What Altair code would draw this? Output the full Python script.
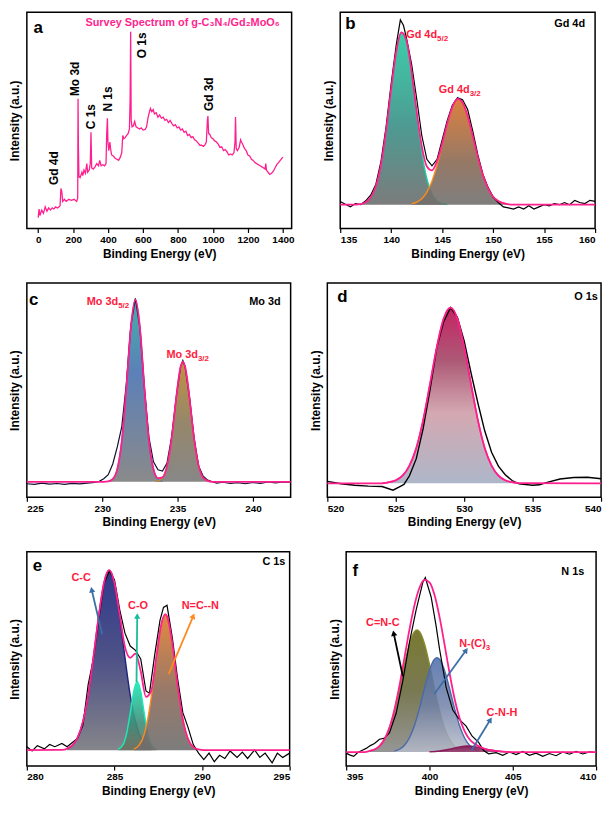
import altair as alt
import pandas as pd

FONT = "Liberation Sans"
PINK = "#ff1f8e"
RED = "#ff1a40"
STEEL = "#3b6fa8"

# ---------------- panel a: survey (binding energy, intensity) ----------------
a_survey = [(0,5),(5,9),(10,6),(20,8.5),(30,7),(40,10),(50,8),(60,9.5),(70,8.5),(80,9.5),(90,9),(100,10),
            (110,9.5),(120,10),(125,10.5),(130,18.5),(135,17),(140,12.5),(150,13.5),(160,12.5),(175,13.5),
            (190,13),(205,13.5),(220,12.5),(226,14),(228,60),(230,38),(233,24),(240,23.5),(250,26),(255,24.5),
            (262,27),(270,25.5),(278,30),(283,26),(292,27),(298,30),(302,44.5),(306,28),(315,27.5),(325,28.5),
            (335,30),(345,29),(352,31.5),(360,29),(370,29.5),(380,29),(388,30),(392,44),(396,51),(399,40),
            (404,36),(410,40),(414,37),(420,34),(430,33.5),(440,32.5),(450,32),(460,31.5),(470,33),(478,35),
            (484,43),(490,41.5),(498,42),(505,43),(515,44),(522,46),(526,60),(529,91),(532,50),(537,47),
            (545,47.5),(552,49.5),(560,47),(570,46.5),(580,46),(590,46.5),(600,45.5),(612,45.8),(620,47),
            (628,51),(635,53.5),(642,55.5),(650,54),(658,55),(665,53),(675,53.5),(685,51.5),(695,52.5),
            (705,51),(715,51.5),(725,50),(735,50.5),(745,49),(755,50),(765,48.5),(775,47.5),(785,48),
            (795,46.5),(805,47),(815,45.5),(825,46),(835,44.5),(845,45),(855,43),(865,43.5),(875,42),
            (885,42.5),(895,41),(905,40.5),(915,39.5),(925,38.5),(935,38.5),(945,38),(955,38.8),(962,40),
            (968,50),(971,52),(975,44),(982,43.5),(990,42),(1000,41.5),(1010,40.5),(1020,40),(1030,39),
            (1040,37.5),(1050,37.8),(1060,36),(1070,36.5),(1080,35.5),(1090,34),(1100,34.5),(1110,34),
            (1120,35),(1126,40),(1129,51.5),(1133,37),(1140,36),(1150,37.5),(1158,41),(1163,40),(1170,39),
            (1180,37),(1190,36),(1200,34),(1210,33.5),(1220,32),(1230,31.5),(1240,30.5),(1250,30),(1260,29.5),
            (1270,29),(1280,28.5),(1290,28),(1298,27.5),(1302,30),(1306,27),(1315,26),(1325,25),(1335,25.5),
            (1345,26.5),(1355,28),(1365,29.5),(1375,30.5),(1385,31.5),(1395,32.5),(1400,33)]

# ---------------- panel b: Gd 4d ----------------
b_base = 11
b_raw = [(135,12.5),(135.5,11.2),(136,10.0),(136.5,11.5),(137,11.0),(137.5,12.8),(138,15.5),(138.5,20.5),
         (139,31),(139.5,47),(140,67),(140.5,85),(140.9,96.5),(141.2,94),(141.5,88),(142,76),(142.5,60),
         (143,43),(143.5,32),(144,29),(144.5,32),(145,41),(145.5,50),(146,57),(146.5,60.5),(147,59.5),
         (147.5,55),(148,45),(148.5,34),(149,25),(149.5,19),(150,14.5),(150.5,12),(151,10),(151.5,9.5),
         (152,9),(152.5,10),(153,9),(153.5,10.5),(154,9),(154.5,10),(155,11),(155.5,10.5),(156,11.5),
         (156.5,11),(157,12),(157.5,11),(158,13),(158.5,12),(159,11.5),(159.5,13),(160,12.5)]
b_fit = [(135,11),(136,11),(137,11.3),(137.5,12.1),(138,14.4),(138.5,19.6),(139,29.6),(139.5,45.4),
         (140,64.7),(140.5,82.1),(141,90.7),(141.5,86.8),(142,72.6),(142.5,54.0),(143,38.0),(143.5,28.7),
         (144,26.9),(144.5,31.2),(145,39.2),(145.5,48.6),(146,56.2),(146.5,59.9),(147,58.3),(147.5,51.9),
         (148,42.7),(148.5,33.0),(149,24.6),(149.5,18.6),(150,14.7),(150.5,12.7),(151,11.7),(151.5,11.2),
         (152,11),(160,11)]
b_gd52 = [(137.0,0.3),(137.5,1.1),(138.0,3.4),(138.5,8.6),(139.0,18.6),(139.5,34.4),(140.0,53.7),
          (140.5,71.1),(141.0,79.7),(141.5,75.8),(142.0,61.2),(142.5,41.8),(143.0,24.2),(143.5,11.9),
          (144.0,5.0),(144.5,1.8),(145.0,0.5),(145.5,0.1)]
b_gd32 = [(142.0,0.4),(142.5,1.2),(143.0,2.8),(143.5,5.8),(144.0,10.9),(144.5,18.4),(145.0,27.7),
          (145.5,37.5),(146.0,45.2),(146.5,48.9),(147.0,47.3),(147.5,40.9),(148.0,31.7),(148.5,22.0),
          (149.0,13.6),(149.5,7.6),(150.0,3.7),(150.5,1.7),(151.0,0.7),(151.5,0.2)]

# ---------------- panel c: Mo 3d ----------------
c_base = 7.2
c_raw = [(225,6.3),(225.5,6.0),(226,6.6),(226.5,6.1),(227,6.4),(227.5,6.0),(228,6.5),(228.5,6.2),(229,6.6),
         (229.5,6.9),(229.8,7.4),(230.1,8.6),(230.4,10.5),(230.7,15.5),(231.0,23.5),(231.3,33),(231.6,53),
         (231.9,80),(232.2,92.8),(232.5,79),(232.8,51),(233.1,28),(233.4,16.5),(233.7,12.8),(234.0,12.2),
         (234.3,16),(234.6,28),(234.9,46),(235.2,61),(235.35,63.8),(235.5,61),(235.8,46),(236.1,27.5),
         (236.4,14.5),(236.7,9.8),(237.0,8.0),(237.3,7.2),(237.6,6.6),(238,7.0),(238.5,6.4),(239,6.8),
         (239.5,6.3),(240,6.9),(240.5,6.5),(241,7.1),(241.5,6.7),(242,7.2),(242.5,7.0)]
c_fit = [(225,7.2),(230.1,7.2),(230.4,7.4),(230.7,8.5),(231.0,13.1),(231.3,26.2),(231.6,51),(231.9,79.2),
         (232.2,92.2),(232.5,79.2),(232.8,51),(233.1,26.2),(233.4,13.1),(233.7,8.9),(234.0,9.3),(234.3,14.5),
         (234.6,27),(234.9,45.7),(235.2,60.9),(235.35,63.2),(235.5,60.9),(235.8,45.7),(236.1,27),(236.4,14.5),
         (236.7,9.1),(237.0,7.6),(237.3,7.2),(242.5,7.2)]
c_mo52 = [(230.4,0.2),(230.7,1.3),(231.0,5.9),(231.3,19),(231.6,43.8),(231.9,72),(232.2,85),(232.5,72),
          (232.8,43.8),(233.1,19),(233.4,5.9),(233.7,1.3),(234.0,0.2)]
c_mo32 = [(233.55,0.1),(233.85,0.9),(234.15,3.9),(234.45,12.5),(234.75,28.8),(235.05,47.4),(235.35,56),
          (235.65,47.4),(235.95,28.8),(236.25,12.5),(236.55,3.9),(236.85,0.9),(237.15,0.1)]

# ---------------- panel d: O 1s ----------------
d_base = 6.5
d_raw = [(520,7.4),(521,6.3),(522,5.6),(523,5.2),(524,5.0),(524.8,3.3),(525.3,5.0),(525.6,6.0),(526,10),
         (526.5,18),(527,32),(527.5,50),(528,70),(528.5,82),(529,88.5),(529.5,84),(530,73),(530.5,58),
         (531,44),(531.5,31),(532,21),(532.5,14.5),(533,10.5),(533.5,7.8),(534,6.2),(535,5.6),(535.5,5.8),
         (536,6.8),(537,8.5),(538,9.2),(539,9.3),(540,8.6)]
d_fit = [(520,6.5),(524,6.5),(524.5,7.0),(525,7.9),(525.5,10.1),(526,14.8),(526.5,23),(527,36),(527.5,52.8),
         (528,70.1),(528.5,83.4),(529,88.5),(529.5,83.4),(530,70.1),(530.5,52.8),(531,36),(531.5,23),
         (532,14.8),(532.5,10.1),(533,7.9),(533.5,7.0),(534,6.6),(540,6.5)]

# ---------------- panel e: C 1s ----------------
e_base = 7.4
e_raw = [(280,9),(280.3,7),(280.6,9.5),(281.0,8),(281.3,10),(281.6,9),(282.0,10.5),(282.3,9),(282.6,11),
         (282.9,13),(283.2,19),(283.5,38),(283.8,50),(284.1,68),(284.4,85),(284.7,91),(285.0,87),(285.3,73),
         (285.6,62),(285.9,56),(286.2,54),(286.5,50),(286.8,35),(287.0,34),(287.3,52),(287.6,68),(287.8,74),
         (288.0,75),(288.3,60),(288.6,41),(288.9,25),(289.2,18),(289.5,10),(289.8,6),(290.1,3),(290.4,6),
         (290.7,2),(291.0,5),(291.3,3.5),(291.6,7),(292.0,4),(292.3,6.5),(292.6,3.5),(293.0,7.5),(293.3,4),
         (293.6,6),(294.0,1.5),(294.3,6),(294.6,4),(295.0,6)]
e_fit = [(280,7.4),(282.0,7.5),(282.3,8.1),(282.6,9.7),(282.9,13.3),(283.2,20.7),(283.5,33.1),(283.8,50.7),
         (284.1,69.8),(284.4,85.4),(284.7,91.4),(285.0,85.4),(285.3,70.5),(285.6,55.6),(285.9,50.5),
         (286.2,52.4),(286.5,44.2),(286.8,32.3),(287.1,35.1),(287.4,51.4),(287.7,67.1),(287.9,70.8),
         (288.0,69.9),(288.3,57.4),(288.6,37.9),(288.9,21.8),(289.2,12.6),(289.5,8.8),(289.8,7.7),
         (290.1,7.4),(295,7.4)]
e_cc = [(282.3,0.7),(282.6,2.3),(282.9,5.9),(283.2,13.3),(283.5,25.7),(283.8,43.3),(284.1,62.4),(284.4,78),
        (284.7,84),(285.0,78),(285.3,62.4),(285.6,43.3),(285.9,25.7),(286.2,13.3),(286.5,5.9),(286.8,2.3),
        (287.1,0.7)]
e_co = [(285.2,0.3),(285.5,2.7),(285.7,8.0),(285.9,17.3),(286.1,27.4),(286.3,32),(286.5,27.4),(286.7,17.3),
        (286.9,8.0),(287.1,2.7),(287.4,0.3)]
e_ncn = [(286.1,0.5),(286.4,2.2),(286.7,7.4),(287.0,19.1),(287.3,37.2),(287.6,55.5),(287.9,63.4),(288.2,55.5),
         (288.5,37.2),(288.8,19.1),(289.1,7.4),(289.4,2.2),(289.7,0.5)]

# ---------------- panel f: N 1s ----------------
f_base = 6.5
f_raw = [(395.0,6.0),(395.2,5.2),(395.45,4.5),(395.7,6.3),(396.0,7.5),(396.2,8.2),(396.45,9.5),(396.7,10.5),
         (397.0,12.5),(397.3,13.0),(397.6,15.5),(398.0,24.6),(398.4,39.7),(398.8,57.8),(399.2,72.9),
         (399.6,85.7),(399.75,88.0),(400.1,78.9),(400.4,65.3),(400.6,54.8),(401.0,36.7),(401.4,26.1),
         (401.8,21.6),(402.2,18.6),(402.55,14.0),(402.95,11.0),(403.25,7.2),(403.55,5.7),(404.0,6.2),
         (404.4,5.0),(404.8,6.5),(405.2,5.3),(405.6,6.8),(406.0,5.0),(406.4,6.0),(406.8,4.5),(407.2,5.8),
         (407.6,4.8),(408.0,6.5),(408.4,5.5),(408.8,6.8),(409.2,5.6),(409.6,6.6),(410,6.3)]
f_fit = [(395,6.5),(396.1,6.5),(396.4,7.0),(396.7,7.7),(397.0,9.3),(397.3,12.5),(397.6,17.9),(397.9,26.4),
         (398.2,37.6),(398.5,50.6),(398.8,63.8),(399.1,75.1),(399.4,83.2),(399.7,86.9),(400.0,85.7),
         (400.3,79.9),(400.6,69.7),(400.9,56.9),(401.2,43.6),(401.5,31.6),(401.8,22.5),(402.1,16.4),
         (402.4,12.5),(402.7,10.4),(403.0,9.1),(403.4,7.8),(404.0,7.0),(404.6,6.6),(405.0,6.5),(410,6.5)]
f_cnc = [(396.4,0.5),(396.7,1.2),(397.0,2.8),(397.3,6.0),(397.6,11.4),(397.9,19.4),(398.2,29.8),(398.5,40.9),
         (398.8,50.6),(399.1,56.2),(399.25,57),(399.4,56.2),(399.7,50.6),(400.0,40.9),(400.3,29.8),
         (400.6,19.4),(400.9,11.4),(401.2,6.0),(401.5,2.8),(401.8,1.2),(402.1,0.5)]
f_nc3 = [(397.9,0.5),(398.2,1.3),(398.5,3.2),(398.8,6.7),(399.1,12.4),(399.4,20.5),(399.7,29.8),(400.0,38.2),
         (400.3,43.3),(400.45,44),(400.6,43.3),(400.9,38.2),(401.2,29.8),(401.5,20.5),(401.8,12.4),
         (402.1,6.7),(402.4,3.2),(402.7,1.3),(403.0,0.5)]
f_cnh = [(400.0,0.1),(400.6,0.47),(401.2,1.3),(401.8,2.4),(402.3,2.8),(402.8,2.4),(403.4,1.3),(404.0,0.47),
         (404.6,0.1)]

# ---------------- helpers ----------------
Y = alt.Y("y:Q", scale=alt.Scale(domain=[0, 100], nice=False, zero=False),
          axis=alt.Axis(title="Intensity (a.u.)", labels=False, ticks=False, titlePadding=5))


def xenc(domain, ticks):
    return alt.X("x:Q", scale=alt.Scale(domain=domain, nice=False, zero=False),
                 axis=alt.Axis(values=ticks, title="Binding Energy (eV)", format="d"))


def df(pts):
    return pd.DataFrame(pts, columns=["x", "y"])


def line(X, pts, color, width=1.2):
    return alt.Chart(df(pts)).mark_line(color=color, strokeWidth=width, interpolate="linear").encode(x=X, y=Y)


def smooth(X, pts, color, width=1.8):
    return alt.Chart(df(pts)).mark_line(color=color, strokeWidth=width, interpolate="monotone").encode(x=X, y=Y)


def grad(*stops):
    return alt.Gradient(gradient="linear",
                        stops=[alt.GradientStop(color=c, offset=o) for o, c in stops],
                        x1=1, x2=1, y1=0, y2=1)


def comp(X, pts, base, fill, edge, opacity=0.9):
    d = pd.DataFrame(pts, columns=["x", "h"])
    d["y"] = d["h"] + base
    d["b"] = base
    return alt.Chart(d).mark_area(color=fill, opacity=opacity, interpolate="monotone",
                                  line=alt.OverlayMarkDef(color=edge, strokeWidth=1.4)).encode(
        x=X, y=Y, y2="b:Q")


def text(X, x, y, s, size=11, color="black", align="center", angle=0, dy=0):
    return alt.Chart(pd.DataFrame({"x": [x], "y": [y], "t": [s]})).mark_text(
        font=FONT, fontWeight="bold", fontSize=size, color=color, align=align,
        baseline="middle", angle=angle, dy=dy).encode(x=X, y=Y, text="t:N")


def subl(X, x, y, main, sub, color=RED):
    return [text(X, x, y, main, 11, color, "right"), text(X, x, y, sub, 8, color, "left", dy=4)]


def arrow(X, x1, y1, x2, y2, color, ang):
    shaft = alt.Chart(pd.DataFrame({"x": [x1], "y": [y1], "x2": [x2], "y2": [y2]})).mark_rule(
        color=color, strokeWidth=1.8).encode(x=X, y=Y, x2="x2:Q", y2="y2:Q")
    head = alt.Chart(pd.DataFrame({"x": [x2], "y": [y2]})).mark_point(
        shape="triangle-up", filled=True, size=40, color=color, angle=ang, opacity=1).encode(x=X, y=Y)
    return [shaft, head]


# ---------------- panel a ----------------
Xa = xenc([-65, 1450], [0, 200, 400, 600, 800, 1000, 1200, 1400])
pa = alt.layer(
    line(Xa, a_survey, PINK, 1.3),
    text(Xa, 0, 92.6, "a", 17),
    text(Xa, 826, 95.1, "Survey Spectrum of g-C₃N₄/Gd₂MoO₆", 11, PINK),
    text(Xa, 91, 27.9, "Gd 4d", 12, angle=270),
    text(Xa, 210, 69.2, "Mo 3d", 12, angle=270),
    text(Xa, 302, 51.7, "C 1s", 12, angle=270),
    text(Xa, 397, 59.9, "N 1s", 12, angle=270),
    text(Xa, 592, 84.7, "O 1s", 12, angle=270),
    text(Xa, 976, 62.1, "Gd 3d", 12, angle=270),
).properties(width=267, height=218)

# ---------------- panel b ----------------
Xb = xenc([135, 160], [135, 140, 145, 150, 155, 160])
pb = alt.layer(
    comp(Xb, b_gd52, b_base, grad((0, "#27c9a0"), (0.55, "#3a8f86"), (1, "#6d6d6d")), "#20d0a0"),
    comp(Xb, b_gd32, b_base, grad((0, "#d8722a"), (0.6, "#8a6a55"), (1, "#707070")), "#ff8c1a"),
    line(Xb, b_raw, "black"),
    smooth(Xb, b_fit, PINK),
    text(Xb, 136.0, 94.6, "b", 17),
    text(Xb, 157.5, 94.6, "Gd 4d", 11),
    *subl(Xb, 144.5, 89.4, "Gd 4d", "5/2"),
    *subl(Xb, 147.7, 63.9, "Gd 4d", "3/2"),
).properties(width=257, height=218)

# ---------------- panel c ----------------
Xc = xenc([225, 242.5], [225, 230, 235, 240])
pc = alt.layer(
    comp(Xc, c_mo52, c_base, grad((0, "#2aa8a0"), (0.4, "#4a72b0"), (1, "#7d7d7d")), "#3a90b0"),
    comp(Xc, c_mo32, c_base, grad((0, "#b8862b"), (0.5, "#8a7a5a"), (1, "#7a7a7a")), "#c08a30"),
    line(Xc, c_raw, "#101030"),
    smooth(Xc, c_fit, PINK),
    text(Xc, 225.45, 92.2, "c", 17),
    text(Xc, 240.8, 91.3, "Mo 3d", 11),
    *subl(Xc, 231.06, 91.0, "Mo 3d", "5/2"),
    *subl(Xc, 236.35, 66.2, "Mo 3d", "3/2"),
).properties(width=266, height=216)

# ---------------- panel d ----------------
Xd = xenc([520, 540], [520, 525, 530, 535, 540])
pd_ = alt.layer(
    comp(Xd, [(x, y - d_base) for x, y in d_fit[1:-1]], d_base,
         grad((0, "#c2185b"), (0.3, "#a8506e"), (0.6, "#d2a4ae"), (1, "#a9b3c6")), PINK, 0.95),
    line(Xd, d_raw, "black", 1.4),
    smooth(Xd, d_fit, PINK),
    text(Xd, 521.1, 93.6, "d", 17),
    text(Xd, 538.9, 93.6, "O 1s", 11),
).properties(width=276, height=216)

# ---------------- panel e ----------------
Xe = xenc([280, 295], [280, 285, 290, 295])
pe = alt.layer(
    comp(Xe, e_cc, e_base, grad((0, "#1a237e"), (0.5, "#3b3f7a"), (1, "#77777d")), "#1a237e"),
    comp(Xe, e_co, e_base, grad((0, "#1de9b6"), (0.6, "#3c8f7a"), (1, "#707060")), "#1de9b6"),
    comp(Xe, e_ncn, e_base, grad((0, "#e07b2a"), (0.55, "#8e6a58"), (1, "#6e6e6e")), "#ff8a1f"),
    line(Xe, e_raw, "black"),
    smooth(Xe, e_fit, PINK),
    *arrow(Xe, 284.3, 61.5, 283.7, 82.3, STEEL, 348),
    *arrow(Xe, 286.26, 39.2, 286.3, 70, "#1abc9c", 1),
    *arrow(Xe, 288.1, 43, 289.5, 70, "#ff8a1f", 23),
    text(Xe, 280.6, 93.5, "e", 17),
    text(Xe, 294.1, 95.4, "C 1s", 11),
    text(Xe, 283.1, 87.7, "C-C", 11, RED),
    text(Xe, 286.35, 74.5, "C-O", 11, RED),
    text(Xe, 289.9, 74.5, "N=C--N", 11, RED),
).properties(width=265, height=216)

# ---------------- panel f ----------------
Xf = xenc([395, 410], [395, 400, 405, 410])
pf = alt.layer(
    comp(Xf, f_cnc, f_base, grad((0, "#6b6b1a"), (0.5, "#6a6a40"), (1, "#8a8a8a")), "#8a8a30"),
    comp(Xf, f_nc3, f_base, grad((0, "#4a6aa8"), (0.5, "#7080a8"), (1, "#b8bcc8")), "#4a6aa8", 0.85),
    comp(Xf, f_cnh, f_base, grad((0, "#7a1050"), (1, "#9a4070")), "#8a1a5a"),
    line(Xf, f_raw, "black"),
    smooth(Xf, f_fit, PINK),
    *arrow(Xf, 398.4, 41.9, 397.85, 62, "black", 348),
    *arrow(Xf, 400.29, 33.6, 402.2, 54, STEEL, 36),
    *arrow(Xf, 402.52, 7.2, 403.65, 21.6, STEEL, 31),
    text(Xf, 395.55, 91, "f", 17),
    text(Xf, 408.6, 90.5, "N 1s", 11),
    text(Xf, 397.2, 66.8, "C=N-C", 11, RED),
    *subl(Xf, 403.38, 57, "N-(C)", "3"),
    text(Xf, 404.35, 24.9, "C-N-H", 11, RED),
).properties(width=252, height=216)

row1 = alt.hconcat(pa, pb, spacing=26)
row2 = alt.hconcat(pc, pd_, spacing=13)
row3 = alt.hconcat(pe, pf, spacing=33)

chart = alt.vconcat(row1, row2, row3, spacing=22).properties(
    padding={"left": 0, "top": 0, "right": 0, "bottom": 0}
).configure(background="white").configure_view(
    stroke="black", strokeWidth=1.5
).configure_axis(
    labelFont=FONT, titleFont=FONT, labelFontWeight="bold", titleFontWeight="bold",
    labelFontSize=10, titleFontSize=12, labelColor="black", titleColor="black",
    tickColor="black", tickSize=4, tickWidth=1.2, domain=False, grid=False,
    labelPadding=2, titlePadding=4
)

chart.save("out.html", embed_options={"renderer": "svg", "actions": False})
